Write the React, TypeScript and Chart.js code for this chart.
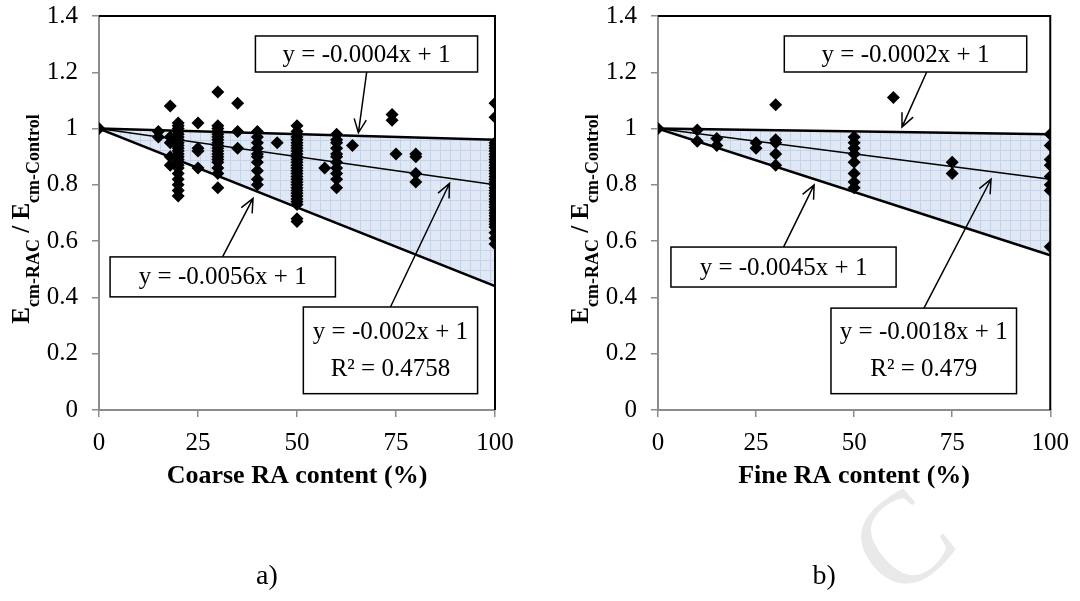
import React, { useEffect, useRef } from 'react';
import { Chart, registerables } from 'chart.js';

Chart.register(...registerables);

const SERIF = "'Liberation Serif', 'Times New Roman', serif";

// ---------- tick labels ----------
const xTicks = [0, 25, 50, 75, 100];
const yTicks = [0, 0.2, 0.4, 0.6, 0.8, 1, 1.2, 1.4];
const yTickLabels = ['0', '0.2', '0.4', '0.6', '0.8', '1', '1.2', '1.4'];

// ---------- a) coarse RA ----------
const coarseContent = [
  0,
  15, 15,
  18, 18, 18, 18, 18,
  20, 20, 20, 20, 20, 20, 20, 20, 20, 20, 20, 20, 20, 20, 20, 20, 20, 20, 20, 20, 20, 20,
  25, 25, 25, 25,
  30, 30, 30, 30, 30, 30, 30, 30, 30, 30, 30, 30, 30, 30, 30, 30, 30, 30,
  35, 35, 35,
  40, 40, 40, 40, 40, 40, 40, 40, 40, 40,
  45,
  50, 50, 50, 50, 50, 50, 50, 50, 50, 50, 50, 50, 50, 50, 50, 50, 50, 50, 50, 50, 50, 50, 50, 50, 50, 50, 50, 50, 50, 50,
  57,
  60, 60, 60, 60, 60, 60, 60, 60, 60, 60, 60,
  64,
  74, 74, 75,
  80, 80, 80, 80,
  100, 100, 100, 100, 100, 100, 100, 100, 100, 100, 100, 100, 100, 100, 100, 100, 100, 100,
  100, 100, 100, 100, 100, 100, 100, 100, 100, 100, 100, 100, 100, 100, 100, 100, 100, 100,
];
const coarseRatio = [
  1.0,
  0.99, 0.97,
  1.08, 0.97, 0.95, 0.9, 0.87,
  1.02, 1.01, 1.0, 0.99, 0.98, 0.97, 0.96, 0.95, 0.94, 0.93, 0.92, 0.91, 0.9, 0.89, 0.88, 0.87, 0.86, 0.84, 0.82, 0.8, 0.78, 0.76,
  1.02, 0.93, 0.92, 0.86,
  1.13, 1.01, 1.0, 0.99, 0.98, 0.97, 0.96, 0.95, 0.94, 0.93, 0.92, 0.91, 0.9, 0.89, 0.88, 0.86, 0.84, 0.79,
  1.09, 0.99, 0.93,
  0.99, 0.97, 0.95, 0.93, 0.91, 0.9, 0.88, 0.85, 0.82, 0.8,
  0.95,
  1.01, 0.99, 0.98, 0.97, 0.96, 0.95, 0.94, 0.93, 0.92, 0.91, 0.9, 0.89, 0.88, 0.87, 0.86, 0.85, 0.84, 0.83, 0.82, 0.81, 0.8, 0.79, 0.78, 0.77, 0.76, 0.75, 0.74, 0.73, 0.68, 0.67,
  0.86,
  0.98, 0.96, 0.95, 0.93, 0.91, 0.9, 0.88, 0.86, 0.84, 0.82, 0.79,
  0.94,
  1.05, 1.03, 0.91,
  0.91, 0.9, 0.84, 0.81,
  1.09, 1.04, 0.95, 0.94, 0.93, 0.92, 0.91, 0.9, 0.89, 0.88, 0.87, 0.86, 0.85, 0.84, 0.83, 0.82, 0.81, 0.8,
  0.79, 0.78, 0.77, 0.76, 0.75, 0.74, 0.73, 0.72, 0.71, 0.7, 0.69, 0.68, 0.67, 0.66, 0.65, 0.63, 0.61, 0.59,
];

// ---------- b) fine RA ----------
const fineContent = [
  0,
  10, 10,
  15, 15,
  25, 25,
  30, 30, 30, 30, 30,
  50, 50, 50, 50, 50, 50, 50, 50,
  60,
  75, 75,
  100, 100, 100, 100, 100, 100, 100, 100,
];
const fineRatio = [
  1.0,
  0.995, 0.955,
  0.965, 0.94,
  0.95, 0.93,
  1.085, 0.96, 0.95, 0.91, 0.87,
  0.97, 0.95, 0.93, 0.91, 0.88, 0.84, 0.81, 0.79,
  1.11,
  0.88, 0.84,
  0.98, 0.94, 0.89, 0.87, 0.83, 0.8, 0.78, 0.58,
];

// ---------- trend lines (end points at 0 % and 100 %) ----------
const trendX = [0, 100];
const coarseUpper = [1, 0.96];
const coarseMid = [1, 0.8];
const coarseLower = [1, 0.44];
const fineUpper = [1, 0.98];
const fineMid = [1, 0.82];
const fineLower = [1, 0.55];

// ---------- texts ----------
const coarseEquations = ['y = -0.0004x + 1', 'y = -0.0056x + 1', 'y = -0.002x + 1', 'R² = 0.4758'];
const fineEquations = ['y = -0.0002x + 1', 'y = -0.0045x + 1', 'y = -0.0018x + 1', 'R² = 0.479'];

type Note = { lines: string[]; box: number[]; arrow: number[] };

type Spec = {
  left: number;
  areaLeft: number;
  areaRight: number;
  content: number[];
  ratio: number[];
  upper: number[];
  mid: number[];
  lower: number[];
  xTitle: string;
  label: string;
  notes: Note[];
  watermark: boolean;
};

const coarseSpec: Spec = {
  left: 0,
  areaLeft: 99,
  areaRight: 495,
  content: coarseContent,
  ratio: coarseRatio,
  upper: coarseUpper,
  mid: coarseMid,
  lower: coarseLower,
  xTitle: 'Coarse RA content (%)',
  label: 'a)',
  watermark: false,
  notes: [
    { lines: [coarseEquations[0]], box: [39.5, 1.329, 95.6, 1.201], arrow: [67.6, 1.201, 65.5, 0.985] },
    { lines: [coarseEquations[1]], box: [2.8, 0.544, 59.7, 0.402], arrow: [31.2, 0.544, 38.9, 0.752] },
    { lines: [coarseEquations[2], coarseEquations[3]], box: [51.6, 0.366, 95.6, 0.058], arrow: [73.6, 0.366, 88.5, 0.805] },
  ],
};

const fineSpec: Spec = {
  left: 540,
  areaLeft: 118,
  areaRight: 515,
  content: fineContent,
  ratio: fineRatio,
  upper: fineUpper,
  mid: fineMid,
  lower: fineLower,
  xTitle: 'Fine RA content (%)',
  label: 'b)',
  watermark: true,
  notes: [
    { lines: [fineEquations[0]], box: [32.2, 1.329, 94.0, 1.201], arrow: [68.5, 1.201, 62.2, 1.005] },
    { lines: [fineEquations[1]], box: [3.3, 0.579, 60.7, 0.437], arrow: [32.0, 0.579, 39.8, 0.8] },
    { lines: [fineEquations[2], fineEquations[3]], box: [44.1, 0.362, 91.4, 0.058], arrow: [67.8, 0.362, 84.9, 0.82] },
  ],
};

function makePattern(ctx: CanvasRenderingContext2D) {
  const c = document.createElement('canvas');
  c.width = 10;
  c.height = 10;
  const g = c.getContext('2d')!;
  g.fillStyle = '#dfe8f4';
  g.fillRect(0, 0, 10, 10);
  g.fillStyle = '#c3d3ea';
  g.fillRect(0, 0, 10, 1);
  g.fillRect(0, 0, 1, 10);
  return ctx.createPattern(c, 'repeat');
}

function drawArrow(ctx: CanvasRenderingContext2D, x1: number, y1: number, x2: number, y2: number) {
  ctx.beginPath();
  ctx.moveTo(x1, y1);
  ctx.lineTo(x2, y2);
  const a = Math.atan2(y2 - y1, x2 - x1);
  const L = 15;
  const s = 0.42;
  ctx.moveTo(x2 - L * Math.cos(a - s), y2 - L * Math.sin(a - s));
  ctx.lineTo(x2, y2);
  ctx.lineTo(x2 - L * Math.cos(a + s), y2 - L * Math.sin(a + s));
  ctx.stroke();
}

function drawYTitle(ctx: CanvasRenderingContext2D, cx: number, cy: number) {
  const parts = [
    { t: 'E', sub: false },
    { t: 'cm-RAC', sub: true },
    { t: ' / ', sub: false },
    { t: 'E', sub: false },
    { t: 'cm-Control', sub: true },
  ];
  const mainFont = `bold 25px ${SERIF}`;
  const subFont = `bold 18px ${SERIF}`;
  let total = 0;
  const widths = parts.map((p) => {
    ctx.font = p.sub ? subFont : mainFont;
    const w = ctx.measureText(p.t).width;
    total += w;
    return w;
  });
  ctx.save();
  ctx.translate(cx, cy);
  ctx.rotate(-Math.PI / 2);
  ctx.fillStyle = '#000';
  ctx.textAlign = 'left';
  ctx.textBaseline = 'alphabetic';
  let x = -total / 2;
  parts.forEach((p, i) => {
    ctx.font = p.sub ? subFont : mainFont;
    ctx.fillText(p.t, x, p.sub ? 10 : 0);
    x += widths[i];
  });
  ctx.restore();
}

function makePlugin(spec: Spec) {
  return {
    id: 'deco',
    beforeDraw(chart: any) {
      if (!spec.watermark) return;
      const ctx = chart.ctx as CanvasRenderingContext2D;
      ctx.save();
      ctx.translate(368, 548);
      ctx.rotate((-40 * Math.PI) / 180);
      ctx.font = `130px ${SERIF}`;
      ctx.fillStyle = '#e9e9e9';
      ctx.textBaseline = 'middle';
      ctx.textAlign = 'center';
      ctx.fillText('C', 0, 0);
      ctx.restore();
    },
    beforeDatasetsDraw(chart: any) {
      const ctx = chart.ctx as CanvasRenderingContext2D;
      const a = chart.chartArea;
      ctx.save();
      ctx.strokeStyle = '#000';
      ctx.lineWidth = 2;
      ctx.beginPath();
      ctx.moveTo(a.left, a.top);
      ctx.lineTo(a.right, a.top);
      ctx.lineTo(a.right, a.bottom);
      ctx.stroke();
      ctx.restore();
    },
    afterDatasetsDraw(chart: any) {
      const ctx = chart.ctx as CanvasRenderingContext2D;
      const xs = chart.scales.x;
      const ys = chart.scales.y;
      ctx.save();
      spec.notes.forEach((n) => {
        const bx1 = xs.getPixelForValue(n.box[0]);
        const by1 = ys.getPixelForValue(n.box[1]);
        const bx2 = xs.getPixelForValue(n.box[2]);
        const by2 = ys.getPixelForValue(n.box[3]);
        ctx.strokeStyle = '#000';
        ctx.lineWidth = 1.5;
        drawArrow(
          ctx,
          xs.getPixelForValue(n.arrow[0]),
          ys.getPixelForValue(n.arrow[1]),
          xs.getPixelForValue(n.arrow[2]),
          ys.getPixelForValue(n.arrow[3])
        );
        ctx.fillStyle = '#fff';
        ctx.fillRect(bx1, by1, bx2 - bx1, by2 - by1);
        ctx.lineWidth = 1.5;
        ctx.strokeRect(bx1, by1, bx2 - bx1, by2 - by1);
        ctx.fillStyle = '#000';
        ctx.font = `25px ${SERIF}`;
        ctx.textAlign = 'center';
        ctx.textBaseline = 'middle';
        const cx = (bx1 + bx2) / 2;
        const h = by2 - by1;
        if (n.lines.length === 1) {
          ctx.fillText(n.lines[0], cx, by1 + h / 2 + 1);
        } else {
          ctx.fillText(n.lines[0], cx, by1 + h * 0.29);
          ctx.fillText(n.lines[1], cx, by1 + h * 0.72);
        }
      });
      ctx.restore();
    },
    afterDraw(chart: any) {
      const ctx = chart.ctx as CanvasRenderingContext2D;
      const a = chart.chartArea;
      const mid = (a.left + a.right) / 2;
      ctx.save();
      ctx.fillStyle = '#000';
      ctx.textAlign = 'center';
      ctx.textBaseline = 'alphabetic';
      ctx.font = `bold 26px ${SERIF}`;
      ctx.fillText(spec.xTitle, mid, 483);
      ctx.font = `28px ${SERIF}`;
      ctx.fillText(spec.label, mid - 30, 584);
      ctx.restore();
      drawYTitle(ctx, a.left - 70, 219);
    },
  };
}

function Panel({ spec }: { spec: Spec }) {
  const ref = useRef<HTMLCanvasElement>(null);
  useEffect(() => {
    const canvas = ref.current!;
    const ctx = canvas.getContext('2d')!;
    const pattern = makePattern(ctx);
    const points = spec.content.map((x, i) => ({ x, y: spec.ratio[i] }));
    const line = (vals: number[]) => trendX.map((x, i) => ({ x, y: vals[i] }));
    const tickFont = { family: SERIF, size: 25 };
    const chart = new Chart(canvas, {
      type: 'scatter',
      data: {
        datasets: [
          {
            data: points,
            pointStyle: 'rectRot',
            pointRadius: 6.5,
            backgroundColor: '#000',
            borderColor: '#000',
            borderWidth: 0,
            showLine: false,
          },
          {
            data: line(spec.upper),
            showLine: true,
            borderColor: '#000',
            borderWidth: 2.5,
            pointRadius: 0,
            backgroundColor: pattern as any,
            fill: '+2',
          },
          {
            data: line(spec.mid),
            showLine: true,
            borderColor: '#000',
            borderWidth: 1.5,
            pointRadius: 0,
            fill: false,
          },
          {
            data: line(spec.lower),
            showLine: true,
            borderColor: '#000',
            borderWidth: 2.5,
            pointRadius: 0,
            fill: false,
          },
        ],
      },
      options: {
        responsive: false,
        animation: false,
        devicePixelRatio: 1,
        layout: { padding: { top: 16, left: 0, right: 540 - spec.areaRight, bottom: 0 } },
        plugins: {
          legend: { display: false },
          tooltip: { enabled: false },
          filler: { drawTime: 'beforeDatasetsDraw' },
        },
        scales: {
          x: {
            type: 'linear',
            min: 0,
            max: 100,
            afterBuildTicks: (s: any) => {
              s.ticks = xTicks.map((v) => ({ value: v }));
            },
            ticks: {
              font: tickFont,
              color: '#000',
              padding: 11,
              maxRotation: 0,
              callback: (v: any) => String(v),
            },
            grid: { drawOnChartArea: false, drawTicks: true, tickLength: 7, color: '#8c8c8c', lineWidth: 1.5 },
            border: { display: true, color: '#8c8c8c', width: 2 },
            afterFit: (s: any) => {
              s.height = 601 - 410;
            },
          },
          y: {
            type: 'linear',
            min: 0,
            max: 1.4,
            afterBuildTicks: (s: any) => {
              s.ticks = yTicks.map((v) => ({ value: v }));
            },
            ticks: {
              font: tickFont,
              color: '#000',
              padding: 14,
              callback: (v: any) => yTickLabels[yTicks.findIndex((t) => Math.abs(t - v) < 1e-6)] ?? '',
            },
            grid: { drawOnChartArea: false, drawTicks: true, tickLength: 7, color: '#8c8c8c', lineWidth: 1.5 },
            border: { display: true, color: '#8c8c8c', width: 2 },
            afterFit: (s: any) => {
              s.width = spec.areaLeft;
              s.paddingTop = 0;
              s.paddingBottom = 0;
            },
          },
        },
      },
      plugins: [makePlugin(spec) as any],
    } as any);
    return () => chart.destroy();
  }, [spec]);
  return (
    <canvas
      ref={ref}
      width={540}
      height={601}
      style={{ position: 'absolute', left: spec.left, top: 0, width: 540, height: 601 }}
    />
  );
}

export default function App() {
  return (
    <div
      style={{
        position: 'fixed',
        left: 0,
        top: 0,
        width: 1080,
        height: 601,
        background: '#fff',
        overflow: 'hidden',
      }}
    >
      <Panel spec={coarseSpec} />
      <Panel spec={fineSpec} />
    </div>
  );
}
